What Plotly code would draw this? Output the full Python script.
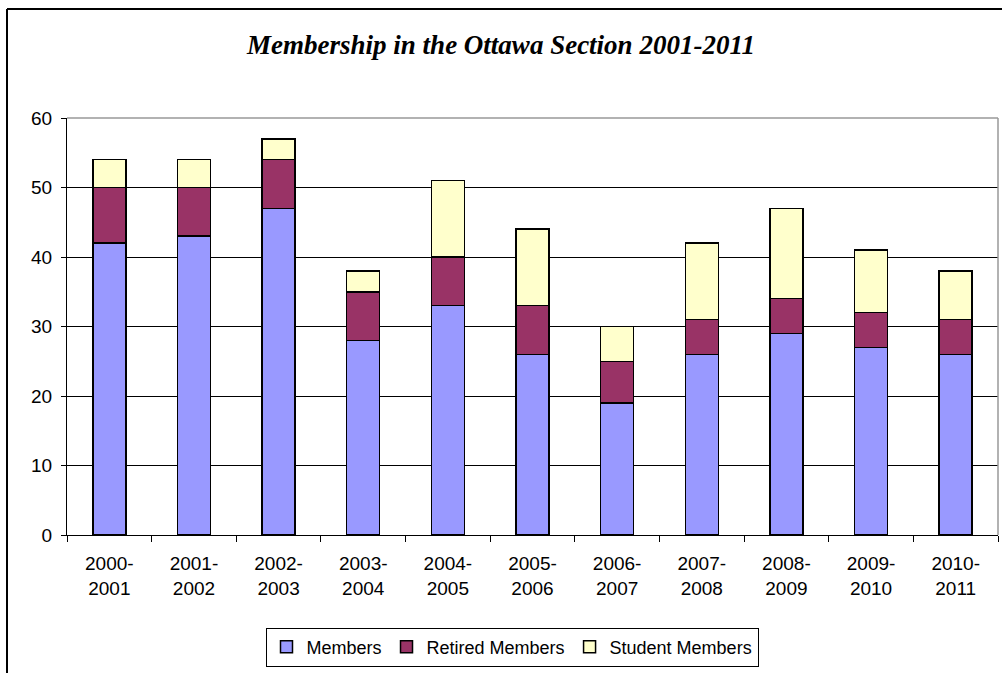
import plotly.graph_objects as go

categories = ["2000-<br>2001", "2001-<br>2002", "2002-<br>2003", "2003-<br>2004", "2004-<br>2005",
              "2005-<br>2006", "2006-<br>2007", "2007-<br>2008", "2008-<br>2009", "2009-<br>2010",
              "2010-<br>2011"]
members = [42, 43, 47, 28, 33, 26, 19, 26, 29, 27, 26]
retired = [8, 7, 7, 7, 7, 7, 6, 5, 5, 5, 5]
students = [4, 4, 3, 3, 11, 11, 5, 11, 13, 9, 7]

series = [("Members", members, "#9999FF"),
          ("Retired Members", retired, "#993366"),
          ("Student Members", students, "#FFFFCC")]

fig = go.Figure()
for name, vals, col in series:
    fig.add_trace(go.Bar(x=categories, y=vals, name=name,
                         marker=dict(color=col, line=dict(color="black", width=1.5))))

L, R, T, B = 67, 4, 118, 138
W, H = 1002, 673
pw, ph = W - L - R, H - T - B

fig.update_layout(
    width=W, height=H, barmode="stack", bargap=0.61,
    margin=dict(l=L, r=R, t=T, b=B),
    paper_bgcolor="white", plot_bgcolor="white",
    font=dict(family="Liberation Sans, Arial", size=19, color="black"),
    title=dict(text="<b><i>Membership in the Ottawa Section 2001-2011</i></b>",
               font=dict(family="Liberation Serif, Times New Roman", size=27, color="black"),
               x=0.5, xanchor="center", y=1 - 45 / H, yanchor="middle"),
    legend=dict(orientation="h", x=(512 - L) / pw, xanchor="center",
                y=-(647 - (H - B)) / ph, yanchor="middle",
                bordercolor="black", borderwidth=1, font=dict(size=18),
                itemwidth=30, traceorder="normal", tracegroupgap=0),
    xaxis=dict(showgrid=False, showline=True, linecolor="black", linewidth=1,
               ticks="outside", tickson="boundaries", ticklen=6, tickcolor="black",
               tickfont=dict(size=19), ticklabelstandoff=11),
    yaxis=dict(range=[0, 60], dtick=10, showgrid=True, gridcolor="black", gridwidth=1,
               showline=True, linecolor="black", linewidth=1, ticks="outside",
               ticklen=5, tickcolor="black", tickfont=dict(size=19), zeroline=False,
               ticklabelstandoff=5),
)

# plot area grey border (top and right)
fig.add_shape(type="line", xref="paper", yref="paper", x0=0, x1=1, y0=1, y1=1,
              line=dict(color="#999999", width=1.5))
fig.add_shape(type="line", xref="paper", yref="paper", x0=1, x1=1, y0=0, y1=1,
              line=dict(color="#999999", width=1.5))
# outer chart border (left and top)
fig.add_shape(type="line", xref="paper", yref="paper",
              x0=(7 - L) / pw, x1=(7 - L) / pw, y0=-1, y1=(H - B - 9) / ph,
              line=dict(color="black", width=2))
fig.add_shape(type="line", xref="paper", yref="paper",
              x0=(7 - L) / pw, x1=1.1, y0=(H - B - 9) / ph, y1=(H - B - 9) / ph,
              line=dict(color="black", width=2))

fig.write_html("out.html", config={"displayModeBar": False},
               post_script="document.body.style.margin='0';")
